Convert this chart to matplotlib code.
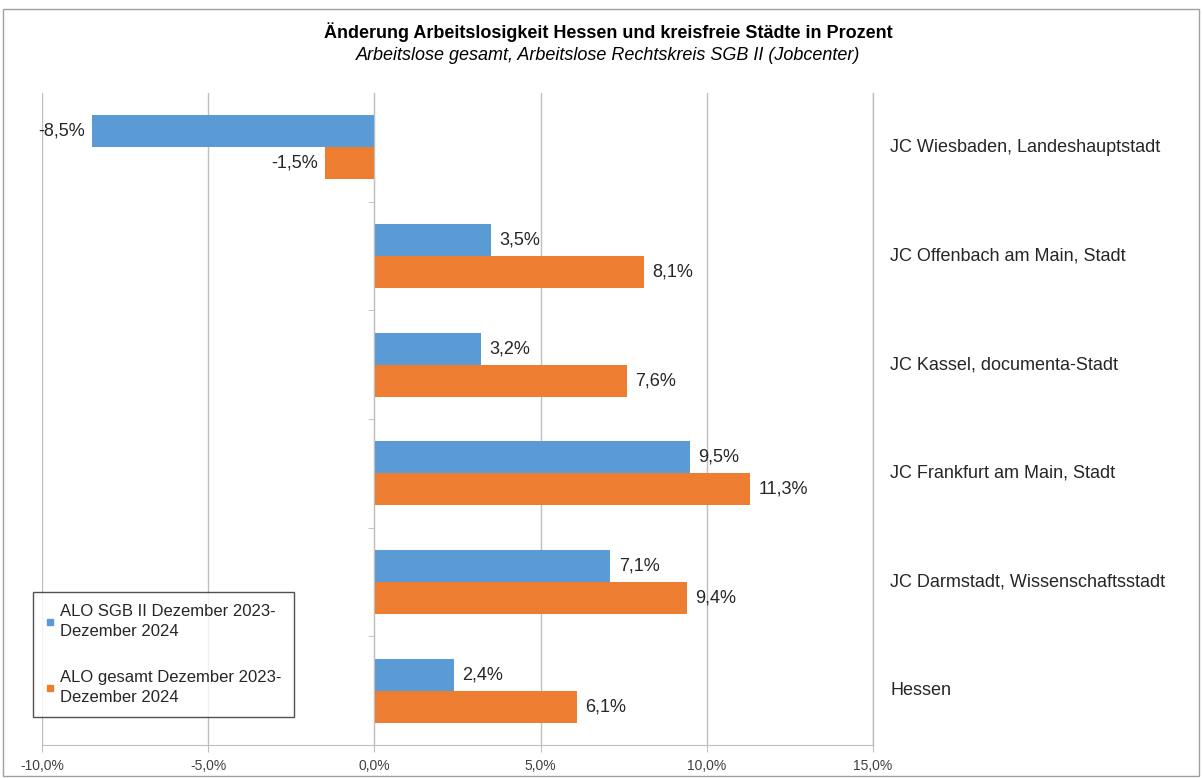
import matplotlib.pyplot as plt
import matplotlib.transforms as mtransforms
from matplotlib.lines import Line2D
from matplotlib.patches import Rectangle
from matplotlib.ticker import FixedLocator, FuncFormatter

plt.rcParams['font.family'] = ['Liberation Sans', 'DejaVu Sans']

categories = ["JC Wiesbaden, Landeshauptstadt",
              "JC Offenbach am Main, Stadt",
              "JC Kassel, documenta-Stadt",
              "JC Frankfurt am Main, Stadt",
              "JC Darmstadt, Wissenschaftsstadt",
              "Hessen"]
alo_sgb2 = [-8.5, 3.5, 3.2, 9.5, 7.1, 2.4]
alo_gesamt = [-1.5, 8.1, 7.6, 11.3, 9.4, 6.1]
series_names = ["ALO SGB II Dezember 2023-\nDezember 2024",
                "ALO gesamt Dezember 2023-\nDezember 2024"]
x_ticks = [-10, -5, 0, 5, 10, 15]

blue = "#5B9BD5"
orange = "#ED7D31"
txt = "#262626"
grid = "#BFBFBF"

fig = plt.figure(figsize=(12.03, 7.78), dpi=100)
ax = fig.add_axes([42/1203, 1-745/778, (873-42)/1203, (745-93)/778])

h = 0.295
ypos = list(range(len(categories)))
ax.barh([y - h/2 for y in ypos], alo_sgb2, height=h, color=blue, zorder=3)
ax.barh([y + h/2 for y in ypos], alo_gesamt, height=h, color=orange, zorder=3)

def fmt(v):
    return ("%.1f%%" % v).replace(".", ",")

for y, v in zip(ypos, alo_sgb2):
    ax.annotate(fmt(v), (v, y - h/2), xytext=(6 if v >= 0 else -5, 0),
                textcoords="offset points", va="center",
                ha="left" if v >= 0 else "right", fontsize=13, color=txt)
for y, v in zip(ypos, alo_gesamt):
    ax.annotate(fmt(v), (v, y + h/2), xytext=(6 if v >= 0 else -5, 0),
                textcoords="offset points", va="center",
                ha="left" if v >= 0 else "right", fontsize=13, color=txt)

ax.set_xlim(-10, 15)
ax.set_ylim(len(categories) - 0.5, -0.5)
ax.set_xticks(x_ticks)
ax.xaxis.set_major_formatter(FuncFormatter(lambda v, p: fmt(v)))
ax.tick_params(axis="x", length=5, color=grid, labelsize=10,
               labelcolor="#404040", pad=5)
ax.grid(axis="x", color=grid, linewidth=1, zorder=0)
ax.axvline(15, color=grid, linewidth=1, zorder=0, clip_on=False)

ax.spines["top"].set_visible(False)
ax.spines["right"].set_visible(False)
ax.spines["bottom"].set_color(grid)
ax.spines["left"].set_position(("data", 0))
ax.spines["left"].set_color(grid)
ax.spines["left"].set_zorder(4)
ax.set_yticks([])
ax.yaxis.set_minor_locator(FixedLocator([y + 0.5 for y in ypos[:-1]]))
ax.tick_params(axis="y", which="minor", length=4, color=grid)

trans = mtransforms.blended_transform_factory(ax.transAxes, ax.transData)
for y, c in zip(ypos, categories):
    ax.text(1 + 17/831, y, c, transform=trans, va="center", ha="left",
            fontsize=13, color=txt)

fig.text(608/1203, 1-32/778, "Änderung Arbeitslosigkeit Hessen und kreisfreie Städte in Prozent",
         ha="center", va="center", fontsize=13, fontweight="bold", color="black")
fig.text(608/1203, 1-55/778, "Arbeitslose gesamt, Arbeitslose Rechtskreis SGB II (Jobcenter)",
         ha="center", va="center", fontsize=13, fontstyle="italic", color="black")

handles = [Line2D([], [], marker="s", linestyle="none", color=blue, markersize=5),
           Line2D([], [], marker="s", linestyle="none", color=orange, markersize=5)]
leg = fig.legend(handles, series_names, loc="lower left",
                 bbox_to_anchor=(33/1203, 1-717/778), bbox_transform=fig.transFigure,
                 borderaxespad=0, fontsize=12, frameon=True, fancybox=False,
                 handlelength=0.5, handletextpad=0.35, labelspacing=1.9,
                 borderpad=0.75, labelcolor=txt)
for t in leg.get_texts():
    t.set_linespacing(1.35)
leg.get_frame().set_edgecolor("#262626")
leg.get_frame().set_linewidth(1)

fig.patches.append(Rectangle((3/1203, 2/778), 1196/1203, 767/778, transform=fig.transFigure,
                             fill=False, edgecolor="#A0A0A0", linewidth=1))

fig.savefig("out.png", dpi=100)
